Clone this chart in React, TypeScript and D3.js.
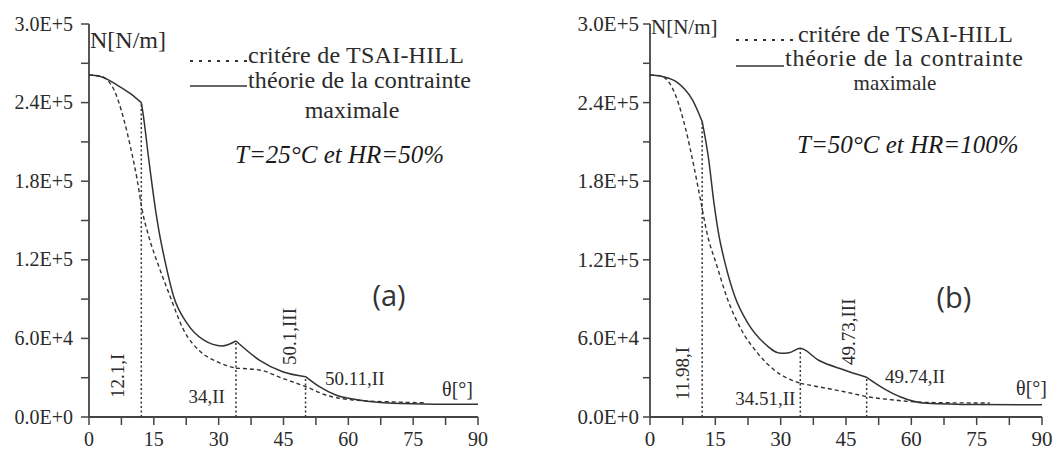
import * as d3 from 'd3'

type Pt = [number, number]

// axes
const xTickValues = [0, 7.5, 15, 22.5, 30, 37.5, 45, 52.5, 60, 67.5, 75, 82.5, 90]
const xLabelValues = [0, 15, 30, 45, 60, 75, 90]
const yTickValues = [0, 3e4, 6e4, 9e4, 1.2e5, 1.5e5, 1.8e5, 2.1e5, 2.4e5, 2.7e5, 3e5]
const yLabelValues = [0, 6e4, 1.2e5, 1.8e5, 2.4e5, 3e5]
const yTickLabels = ['0.0E+0', '6.0E+4', '1.2E+5', '1.8E+5', '2.4E+5', '3.0E+5']

const legendTsai = 'critére de TSAI-HILL'
const legendMax1 = 'théorie de la contrainte'
const legendMax2 = 'maximale'

// (a) T=25°C, HR=50%  -- [theta (deg), N (N/m)]
const solidA: Pt[] = [
  [0, 261000], [3, 259500], [6.5, 253400], [9.5, 247000], [12.1, 240000],
  [12.5, 231800], [13.85, 196000], [15.4, 158000], [16.15, 142700], [17.7, 117300],
  [19.6, 91800], [22.7, 71500], [26.5, 58800], [30.8, 54200], [34, 58000],
  [39.4, 43500], [44.8, 34600], [50.1, 30800],
  [53.3, 23100], [57.1, 16800], [62.5, 13000], [70.2, 10500], [80, 9800], [90, 9700],
]
const tsaiA: Pt[] = [
  [0, 261000], [2, 260500], [3.5, 259000], [5.8, 249600], [8.1, 226700], [9.6, 206000],
  [11.15, 181000], [12.3, 158000], [13.85, 137600], [16.15, 115000], [18.8, 91800],
  [21.9, 66400], [25.8, 49800], [29.6, 42200], [34, 37200],
  [39.4, 35900], [44.8, 29500], [50.2, 23100], [54.8, 16800], [61, 13000],
  [70.2, 11500], [78, 10800],
]
const kinksSolidA = [12.1, 34, 50.1]
const kinksTsaiA = [34]
const transitionsA = [12.1, 34, 50.1]

// (b) T=50°C, HR=100%
const solidB: Pt[] = [
  [0, 261000], [3, 259800], [6, 256000], [9.75, 242000], [11.98, 225500],
  [13.5, 196000], [14.6, 165600], [15.75, 140000], [17.25, 117300], [19.5, 91800],
  [22.5, 71500], [26.25, 56300], [30, 48600], [31.9, 49100], [34.51, 52400],
  [38.6, 43500], [44.6, 35900], [49.74, 30300],
  [53.6, 21900], [57.4, 15500], [63.4, 10500], [75, 9500], [90, 9300],
]
const tsaiB: Pt[] = [
  [0, 261000], [1.5, 260800], [3, 259700], [6, 244500], [8.25, 219000], [10.1, 191000],
  [11.6, 165600], [13.1, 140200], [15.4, 115000], [17.6, 91800], [21, 66400],
  [24.75, 48600], [28.5, 35900], [34.51, 25700],
  [38.6, 23100], [44.6, 19300], [49.9, 15500], [55.9, 13000], [62.6, 11200],
  [70, 10800], [78, 10700],
]
const kinksSolidB = [11.98, 49.74]
const kinksTsaiB = [34.51]
const transitionsB = [11.98, 34.51, 49.74]

const SERIF = "'Liberation Serif', 'Times New Roman', serif"
const INK = '#2b2b2b'

function splitAt(points: Pt[], kinks: number[]): Pt[][] {
  const segs: Pt[][] = [[]]
  points.forEach((p) => {
    segs[segs.length - 1].push(p)
    if (kinks.includes(p[0])) segs.push([p])
  })
  return segs.filter((s) => s.length > 1)
}

function Panel({ cfg }: { cfg: any }) {
  const x = d3.scaleLinear().domain([0, 90]).range([cfg.x0, cfg.x1])
  const y = d3.scaleLinear().domain([0, 3e5]).range([cfg.yBot, cfg.yTop])
  const line = d3
    .line<Pt>()
    .x((d) => x(d[0]))
    .y((d) => y(d[1]))
    .curve(d3.curveMonotoneX)
  const pathOf = (pts: Pt[], kinks: number[]) =>
    splitAt(pts, kinks)
      .map((s) => line(s))
      .join('')
  const solidAt = (t: number) => (cfg.solid.find((p: Pt) => p[0] === t) || [t, 0])[1]

  return (
    <g fill={INK} fontFamily={SERIF}>
      {/* axes */}
      <line x1={x(0)} x2={x(0)} y1={y(0)} y2={y(3e5)} stroke="#444" strokeWidth={1.8} />
      <line x1={x(0)} x2={x(90)} y1={y(0)} y2={y(0)} stroke="#444" strokeWidth={1.8} />
      {yTickValues.map((v) => (
        <line key={'yt' + v} x1={x(0) - cfg.tick} x2={x(0)} y1={y(v)} y2={y(v)} stroke="#444" strokeWidth={1.5} />
      ))}
      {xTickValues.map((v) => (
        <line key={'xt' + v} x1={x(v)} x2={x(v)} y1={y(0)} y2={y(0) + 8} stroke="#444" strokeWidth={1.5} />
      ))}
      {yLabelValues.map((v, i) => (
        <text key={'yl' + v} x={x(0) - cfg.labelGap} y={y(v)} dy="0.33em" textAnchor="end" fontSize={cfg.tickFont}>
          {yTickLabels[i]}
        </text>
      ))}
      {xLabelValues.map((v) => (
        <text key={'xl' + v} x={x(v)} y={446} textAnchor="middle" fontSize={cfg.tickFont}>
          {v}
        </text>
      ))}

      {/* transition markers */}
      {cfg.transitions.map((t: number) => (
        <line
          key={'tr' + t}
          x1={x(t)}
          x2={x(t)}
          y1={y(0)}
          y2={y(solidAt(t))}
          stroke="#333"
          strokeWidth={1.5}
          strokeDasharray="2,2.5"
        />
      ))}

      {/* curves */}
      <path d={pathOf(cfg.tsai, cfg.kinksTsai)} fill="none" stroke="#333" strokeWidth={1.4} strokeDasharray="4,3" />
      <path d={pathOf(cfg.solid, cfg.kinksSolid)} fill="none" stroke="#333" strokeWidth={1.5} />

      {/* annotations */}
      {cfg.notes.map((n: any) => {
        const px = x(n.theta) + n.dx
        const py = y(0) + n.dy
        return (
          <text
            key={n.text}
            x={px}
            y={py}
            fontSize={19}
            textAnchor={n.anchor || 'start'}
            transform={n.rotate ? `rotate(-90 ${px} ${py})` : undefined}
          >
            {n.text}
          </text>
        )
      })}
      <text x={cfg.thetaLabel[0]} y={cfg.thetaLabel[1]} fontSize={20} textAnchor="end">
        θ[°]
      </text>
      <text x={cfg.nLabel[0]} y={cfg.nLabel[1]} fontSize={cfg.nFont}>
        N[N/m]
      </text>

      {/* legend */}
      <line x1={cfg.leg.lx0} x2={cfg.leg.lx1} y1={cfg.leg.y1 - 2} y2={cfg.leg.y1 - 2} stroke="#333" strokeWidth={2} strokeDasharray="3,6" />
      <text x={cfg.leg.lx1 + 1} y={cfg.leg.y1} fontSize={24} textLength={cfg.leg.w1} lengthAdjust="spacing">
        {legendTsai}
      </text>
      <line x1={cfg.leg.lx0} x2={cfg.leg.lx2} y1={cfg.leg.sy} y2={cfg.leg.sy} stroke="#333" strokeWidth={1.6} />
      <text x={cfg.leg.lx2 + 1} y={cfg.leg.y2} fontSize={24} textLength={cfg.leg.w2} lengthAdjust="spacing">
        {legendMax1}
      </text>
      <text x={cfg.leg.mx} y={cfg.leg.y3} fontSize={cfg.leg.f3} textAnchor="middle">
        {legendMax2}
      </text>
      <text x={cfg.cond[0]} y={cfg.cond[1]} fontSize={25} fontStyle="italic" fill="#1a1a1a">
        {cfg.condText}
      </text>
      <text x={cfg.tag[0]} y={cfg.tag[1]} fontSize={29} textAnchor="middle" fontFamily="'Open Sans', 'DejaVu Sans', sans-serif" fill="#333">
        {cfg.tagText}
      </text>
    </g>
  )
}

const panelA = {
  x0: 89, x1: 478, yTop: 24, yBot: 417, tick: 8, labelGap: 16, tickFont: 20,
  solid: solidA, tsai: tsaiA, kinksSolid: kinksSolidA, kinksTsai: kinksTsaiA, transitions: transitionsA,
  notes: [
    { text: '12.1,I', theta: 12.1, dx: -17, dy: -19, rotate: true },
    { text: '34,II', theta: 34, dx: -11, dy: -14, anchor: 'end' },
    { text: '50.1,III', theta: 50.1, dx: -9.5, dy: -52, rotate: true },
    { text: '50.11,II', theta: 50.1, dx: 19.5, dy: -32 },
  ],
  thetaLabel: [473, 396], nLabel: [90, 48], nFont: 24,
  leg: { lx0: 190, lx1: 247, lx2: 247, y1: 63, sy: 86, y2: 88, y3: 118, f3: 24, mx: 352, w1: 216, w2: 223 },
  cond: [235, 163], condText: 'T=25°C et HR=50%',
  tag: [389, 306], tagText: '(a)',
}

const panelB = {
  x0: 650, x1: 1042, yTop: 24, yBot: 417, tick: 7, labelGap: 11, tickFont: 21,
  solid: solidB, tsai: tsaiB, kinksSolid: kinksSolidB, kinksTsai: kinksTsaiB, transitions: transitionsB,
  notes: [
    { text: '11.98,I', theta: 11.98, dx: -13, dy: -17, rotate: true },
    { text: '34.51,II', theta: 34.51, dx: -5, dy: -12, anchor: 'end' },
    { text: '49.73,III', theta: 49.73, dx: -11.6, dy: -52, rotate: true },
    { text: '49.74,II', theta: 49.74, dx: 18.4, dy: -34 },
  ],
  thetaLabel: [1047, 395], nLabel: [651, 34], nFont: 21,
  leg: { lx0: 736, lx1: 797, lx2: 784, y1: 42, sy: 66, y2: 66, y3: 90, f3: 21, mx: 895, w1: 215, w2: 238 },
  cond: [797, 153], condText: 'T=50°C et HR=100%',
  tag: [954, 308], tagText: '(b)',
}

export default function App() {
  return (
    <svg
      width={1059}
      height={450}
      style={{ position: 'absolute', left: 0, top: 0, background: '#fff' }}
    >
      <Panel cfg={panelA} />
      <Panel cfg={panelB} />
    </svg>
  )
}
